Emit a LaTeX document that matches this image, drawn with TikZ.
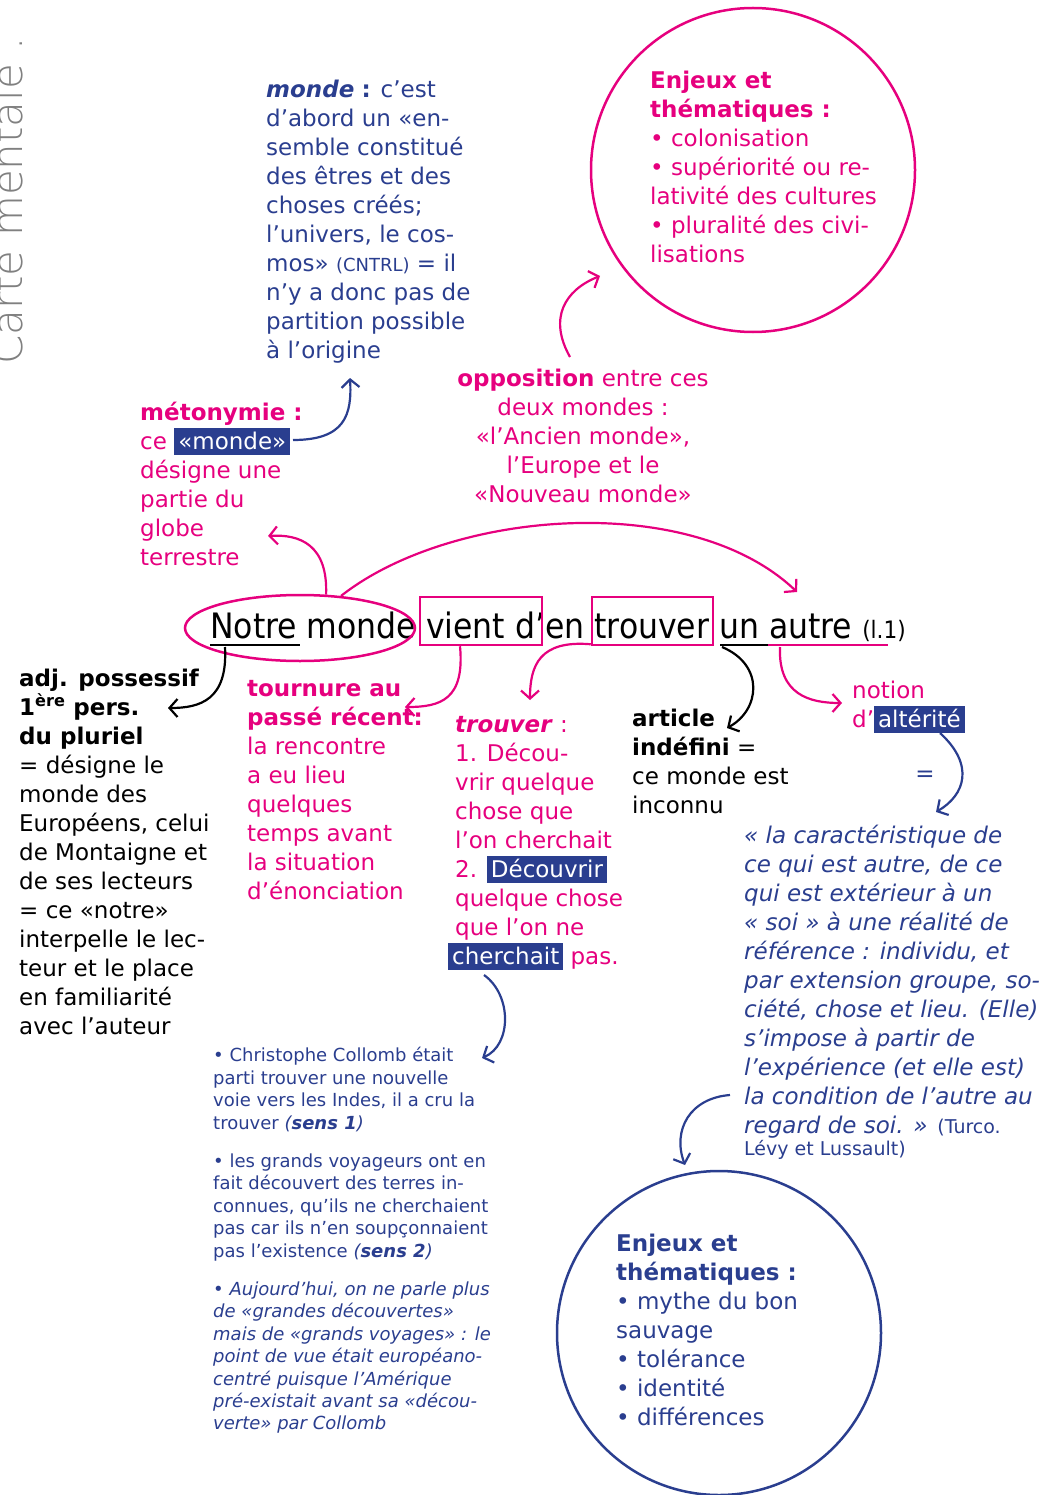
\documentclass[tikz,border=0pt]{standalone}
\usepackage{fontspec}
\setmainfont{DejaVu Sans}
\newfontfamily\condensee{DejaVu Sans Condensed}
\newfontfamily\fine{DejaVu Sans ExtraLight}
\usetikzlibrary{arrows.meta, shapes.geometric, calc}
\definecolor{rose}{RGB}{230,0,126}
\definecolor{marine}{RGB}{42,62,143}
\newcommand{\haut}{\rule{0pt}{.87em}}
\newcommand{\surligne}[1]{{\setlength{\fboxsep}{0pt}\colorbox{marine}{\rule[-6pt]{0pt}{27pt}\hspace{4pt}\textcolor{white}{#1}\hspace{4pt}}}}

\begin{document}
\begin{tikzpicture}[
        x=1pt, y=-1pt,
        fleche/.style={line width=2.2pt, -{Straight Barb[length=8pt,width=18pt]}},
        bloc/.style={anchor=north west, inner sep=0pt, align=left, font=\fontsize{23}{29}\selectfont},
        petit/.style={font=\fontsize{18}{22.4}\selectfont},
        cadre/.style={draw=rose, line width=2.5pt, inner sep=0pt}
    ]
    \useasboundingbox (0,0) rectangle (1044,1495);

    % titre vertical
    \node[anchor=base west, rotate=90, inner sep=0pt, text=gray, font=\fine\fontsize{42}{42}\selectfont] (titre) at (22,365) {Carte mentale .};

    % phrase centrale
    \node[anchor=base west, inner sep=0pt, font=\condensee\fontsize{35}{40}\selectfont] (phrase) at (210,638)
        {Notre monde vient d’en trouver un autre {\fontsize{24}{29}\selectfont (l.1)}};
    \node[cadre, ellipse, minimum width=230, minimum height=66] (nm) at (300,628) {};
    \node[cadre, rectangle, minimum width=122, minimum height=48] (vient) at (481,621) {};
    \node[cadre, rectangle, minimum width=121, minimum height=48] (trouv) at (652.5,621) {};
    \draw[line width=2pt] (210,645) -- (300,645);
    \draw[line width=2pt] (720,645) -- (768,645);
    \draw[line width=2pt, rose] (768,645) -- (888,645);

    % blocs de texte
    \node[bloc, text=marine] (defmonde) at (266,77) {\haut\textbf{\textit{monde}} \textbf{:} c’est\\
        d’abord un «en-\\
        semble constitué\\
        des êtres et des\\
        choses créés;\\
        l’univers, le cos-\\
        mos» {\fontsize{18}{29}\selectfont (CNTRL)} = il\\
        n’y a donc pas de\\
        partition possible\\
        à l’origine};

    \node[draw=rose, line width=2.5pt, circle, minimum size=324] (cercleA) at (753,170) {};
    \node[bloc, text=rose] (enjeuxA) at (650,68) {\haut\textbf{Enjeux et}\\
        \textbf{thématiques :}\\
        • colonisation\\
        • supériorité ou re-\\
        lativité des cultures\\
        • pluralité des civi-\\
        lisations};

    \node[bloc, anchor=north, align=center, text=rose] (opposition) at (583,366) {\haut\textbf{opposition} entre ces\\
        deux mondes :\\
        «l’Ancien monde»,\\
        l’Europe et le\\
        «Nouveau monde»};

    \node[bloc, text=rose] (metonymie) at (140,400) {\haut\textbf{métonymie :}\\
        ce \surligne{«monde»}\\
        désigne une\\
        partie du\\
        globe\\
        terrestre};

    \node[bloc] (adjposs) at (19,666) {\haut\textbf{adj. possessif}\\
        \textbf{1\textsuperscript{ère} pers.}\\
        \textbf{du pluriel}\\
        = désigne le\\
        monde des\\
        Européens, celui\\
        de Montaigne et\\
        de ses lecteurs\\
        = ce «notre»\\
        interpelle le lec-\\
        teur et le place\\
        en familiarité\\
        avec l’auteur};

    \node[bloc, text=rose] (tournure) at (247,676) {\haut\textbf{tournure au}\\
        \textbf{passé récent:}\\
        la rencontre\\
        a eu lieu\\
        quelques\\
        temps avant\\
        la situation\\
        d’énonciation};

    \node[bloc, text=rose] (trouverdef) at (455,712) {\haut\textbf{\textit{trouver}} :\\
        1. Décou-\\
        vrir quelque\\
        chose que\\
        l’on cherchait\\
        2. \surligne{Découvrir}\\
        quelque chose\\
        que l’on ne\\
        \hspace*{-7pt}\surligne{cherchait} pas.};

    \node[bloc, petit, text=marine] (exemples) at (213,1046) {\haut• Christophe Collomb était\\
        parti trouver une nouvelle\\
        voie vers les Indes, il a cru la\\
        trouver \textit{(\textbf{sens 1})}\\[16pt]
        • les grands voyageurs ont en\\
        fait découvert des terres in-\\
        connues, qu’ils ne cherchaient\\
        pas car ils n’en soupçonnaient\\
        pas l’existence \textit{(\textbf{sens 2})}\\[16pt]
        \textit{• Aujourd’hui, on ne parle plus}\\
        \textit{de «grandes découvertes»}\\
        \textit{mais de «grands voyages» : le}\\
        \textit{point de vue était européano-}\\
        \textit{centré puisque l’Amérique}\\
        \textit{pré-existait avant sa «décou-}\\
        \textit{verte» par Collomb}};

    \node[bloc] (article) at (632,706) {\haut\textbf{article}\\
        \textbf{indéfini} =\\
        ce monde est\\
        inconnu};

    \node[bloc, text=rose] (notion) at (852,678) {\haut notion\\
        d’\surligne{altérité}};

    \node[bloc, anchor=center, text=marine] (egal) at (925,776) {=};

    \node[bloc, text=marine, font=\fontsize{23}{29}\selectfont\itshape] (citation) at (744,823) {\haut« la caractéristique de\\
        ce qui est autre, de ce\\
        qui est extérieur à un\\
        « soi » à une réalité de\\
        référence : individu, et\\
        par extension groupe, so-\\
        ciété, chose et lieu. (Elle)\\
        s’impose à partir de\\
        l’expérience (et elle est)\\
        la condition de l’autre au\\
        regard de soi. » {\upshape\fontsize{19}{29}\selectfont (Turco.}\\[-7pt]
        {\upshape\fontsize{19}{29}\selectfont Lévy et Lussault)}};

    \node[draw=marine, line width=2.5pt, circle, minimum size=324] (cercleB) at (719,1333) {};
    \node[bloc, text=marine] (enjeuxB) at (616,1231) {\haut\textbf{Enjeux et}\\
        \textbf{thématiques :}\\
        • mythe du bon\\
        sauvage\\
        • tolérance\\
        • identité\\
        • différences};

    % points d'arrivee des fleches
    \coordinate (finA) at (600,276);
    \coordinate (finDef) at (350,378);
    \coordinate (finMet) at (268,536);
    \coordinate (finAutre) at (797,592);
    \coordinate (finAdj) at (168,708);
    \coordinate (finTour) at (405,707);
    \coordinate (finTrouv) at (530,700);
    \coordinate (finArt) at (727,728);
    \coordinate (finNot) at (842,703);
    \coordinate (finCit) at (936,812);
    \coordinate (finEx) at (482,1058);
    \coordinate (finB) at (685,1165);
    \coordinate (monde) at (293,440);
    \coordinate (alter) at (940,733);
    \coordinate (cherch) at (484,975);
    \coordinate (regard) at (730,1095);

    % fleches
    \draw[fleche, rose] ([xshift=-13pt,yshift=9pt]opposition.north) .. controls (548,318) and (565,290) .. (finA);
    \draw[fleche, marine] (monde) .. controls (345,440) and (352,415) .. (finDef);
    \draw[fleche, rose] (nm.52) .. controls (328,545) and (300,534) .. (finMet);
    \draw[fleche, rose] (nm.38) .. controls (450,510) and (690,490) .. (finAutre);
    \draw[fleche] (225,647) .. controls (228,700) and (200,708) .. (finAdj);
    \draw[fleche, rose] ([xshift=-21pt]vient.south) .. controls (465,700) and (440,707) .. (finTour);
    \draw[fleche, rose] ([yshift=2pt]trouv.south west) .. controls (540,640) and (530,665) .. (finTrouv);
    \draw[fleche] (722,647) .. controls (765,665) and (760,710) .. (finArt);
    \draw[fleche, rose] (780,647) .. controls (778,695) and (810,703) .. (finNot);
    \draw[fleche, marine] (alter) .. controls (975,765) and (965,795) .. (finCit);
    \draw[fleche, marine] (cherch) .. controls (512,995) and (512,1045) .. (finEx);
    \draw[fleche, marine] (regard) .. controls (690,1098) and (672,1130) .. (finB);
\end{tikzpicture}
\end{document}
